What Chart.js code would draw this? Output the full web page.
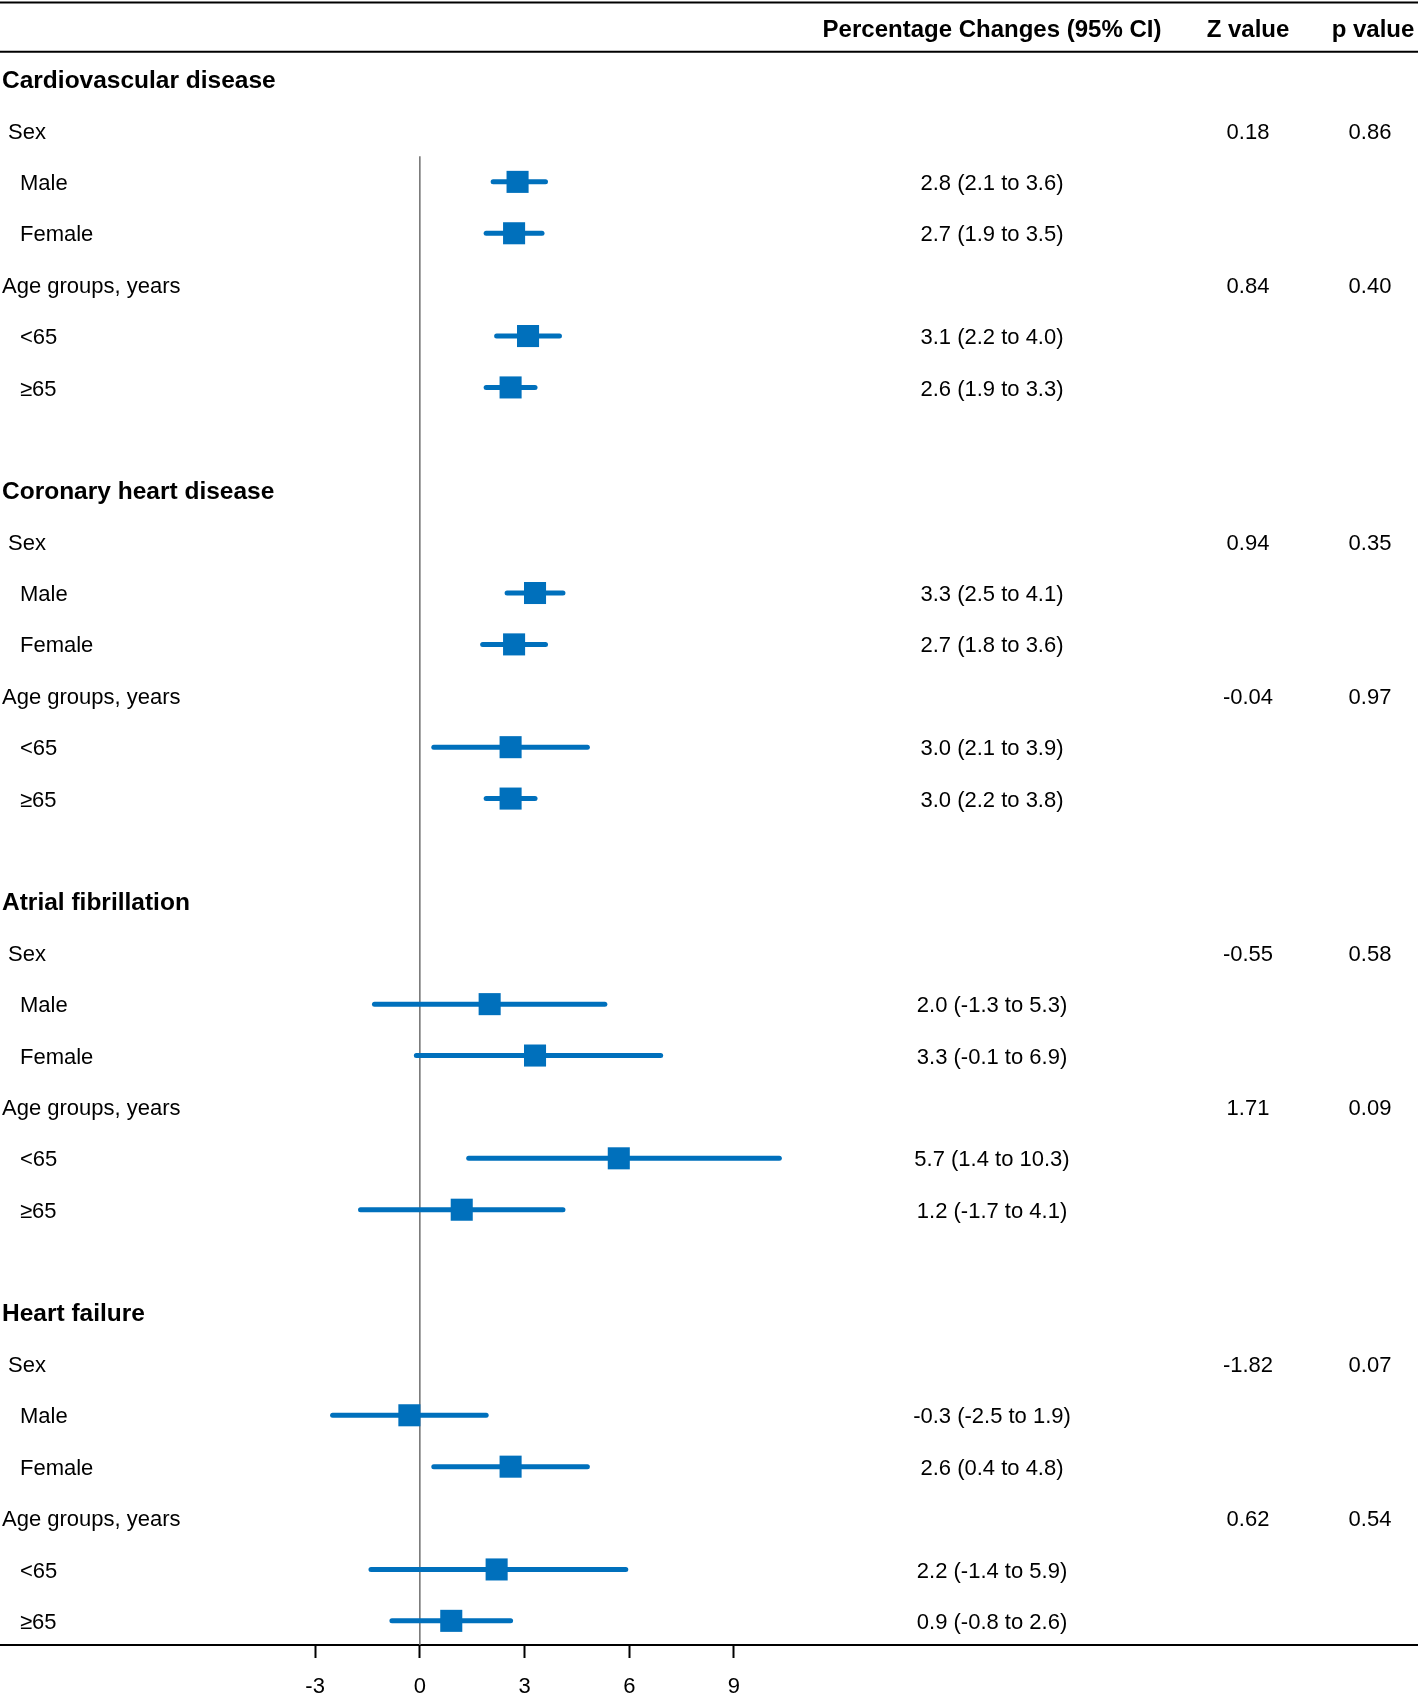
<!DOCTYPE html>
<html>
<head>
<meta charset="utf-8">
<script src="https://cdn.jsdelivr.net/npm/chart.js@4.4.1/dist/chart.umd.min.js"></script>
<style>
  html, body { margin: 0; padding: 0; background: #fff; }
  #wrap { width: 1418px; height: 1696px; }
</style>
</head>
<body>
<div id="wrap"><canvas id="forest" width="1418" height="1696"></canvas></div>
<script>
const outcomes = ["Cardiovascular disease", "Coronary heart disease", "Atrial fibrillation", "Heart failure"];
const subgroups = ["Male", "Female", "<65", "≥65"];

// marks as drawn in the plot, 4 per outcome (Male, Female, <65, ≥65)
const estimate = [2.8, 2.7, 3.1, 2.6,   3.3, 2.7, 2.6, 2.6,   2.0, 3.3, 5.7, 1.2,   -0.3, 2.6, 2.2, 0.9];
const lower    = [2.1, 1.9, 2.2, 1.9,   2.5, 1.8, 0.4, 1.9,   -1.3, -0.1, 1.4, -1.7, -2.5, 0.4, -1.4, -0.8];
const upper    = [3.6, 3.5, 4.0, 3.3,   4.1, 3.6, 4.8, 3.3,   5.3, 6.9, 10.3, 4.1,   1.9, 4.8, 5.9, 2.6];

// text column, as printed
const ciText = [
  "2.8 (2.1 to 3.6)", "2.7 (1.9 to 3.5)", "3.1 (2.2 to 4.0)", "2.6 (1.9 to 3.3)",
  "3.3 (2.5 to 4.1)", "2.7 (1.8 to 3.6)", "3.0 (2.1 to 3.9)", "3.0 (2.2 to 3.8)",
  "2.0 (-1.3 to 5.3)", "3.3 (-0.1 to 6.9)", "5.7 (1.4 to 10.3)", "1.2 (-1.7 to 4.1)",
  "-0.3 (-2.5 to 1.9)", "2.6 (0.4 to 4.8)", "2.2 (-1.4 to 5.9)", "0.9 (-0.8 to 2.6)"
];
// Sex, Age groups for each outcome
const zValues = ["0.18", "0.84", "0.94", "-0.04", "-0.55", "1.71", "-1.82", "0.62"];
const pValues = ["0.86", "0.40", "0.35", "0.97", "0.58", "0.09", "0.07", "0.54"];
const xTicks = [-3, 0, 3, 6, 9];

const BLUE = "#0070bc";
const FONT = '"Liberation Sans", Arial, sans-serif';

// row index on the y scale
const subRowOffset = [2, 3, 5, 6];
const rowOf = i => 8 * Math.floor(i / 4) + subRowOffset[i % 4];
const Y_TOP = -1.5, Y_BOTTOM = 30.47;

const ciDatasets = estimate.map((e, i) => ({
  type: "line",
  data: [{ x: lower[i], y: rowOf(i) }, { x: upper[i], y: rowOf(i) }],
  borderColor: BLUE,
  borderWidth: 5,
  borderCapStyle: "round",
  pointRadius: 0,
  order: 1
}));

const tablePlugin = {
  id: "table",
  afterDraw(chart) {
    const ctx = chart.ctx;
    const ys = chart.scales.y;
    const W = chart.width;
    const rowY = r => ys.getPixelForValue(r);
    const textY = r => rowY(r) + 2;
    ctx.save();

    // rules
    ctx.strokeStyle = "#000";
    ctx.lineWidth = 2;
    [rowY(Y_TOP) + 0.5, rowY(-0.53)].forEach(yy => {
      ctx.beginPath();
      ctx.moveTo(0, yy);
      ctx.lineTo(W, yy);
      ctx.stroke();
    });

    ctx.fillStyle = "#000";
    ctx.textBaseline = "middle";

    // header
    ctx.font = "bold 24px " + FONT;
    ctx.textAlign = "center";
    const hy = textY(-1) + 1;
    ctx.fillText("Percentage Changes (95% CI)", 992, hy);
    ctx.fillText("Z value", 1248, hy);
    ctx.fillText("p value", 1373, hy);

    outcomes.forEach((name, g) => {
      const base = 8 * g;
      ctx.textAlign = "left";
      ctx.font = "bold 24.5px " + FONT;
      ctx.fillText(name, 2, textY(base));
      ctx.font = "22px " + FONT;
      ctx.fillText("Sex", 8, textY(base + 1));
      ctx.fillText("Age groups, years", 2, textY(base + 4));
      subgroups.forEach((s, k) => {
        ctx.textAlign = "left";
        ctx.fillText(s, 20, textY(base + subRowOffset[k]));
        ctx.textAlign = "center";
        ctx.fillText(ciText[4 * g + k], 992, textY(base + subRowOffset[k]));
      });
      ctx.textAlign = "center";
      ctx.fillText(zValues[2 * g], 1248, textY(base + 1));
      ctx.fillText(pValues[2 * g], 1370, textY(base + 1));
      ctx.fillText(zValues[2 * g + 1], 1248, textY(base + 4));
      ctx.fillText(pValues[2 * g + 1], 1370, textY(base + 4));
    });
    ctx.restore();
  }
};

new Chart(document.getElementById("forest"), {
  type: "scatter",
  data: {
    datasets: [
      {
        data: estimate.map((e, i) => ({ x: e, y: rowOf(i) })),
        pointStyle: "rect",
        pointRadius: 15.6,
        pointHoverRadius: 15.6,
        backgroundColor: BLUE,
        borderWidth: 0,
        order: 0
      },
      ...ciDatasets,
      {
        type: "line",
        data: [{ x: 0, y: 1.5 }, { x: 0, y: Y_BOTTOM }],
        borderColor: "#6f6f6f",
        borderWidth: 1.5,
        pointRadius: 0,
        order: 2
      }
    ]
  },
  options: {
    responsive: false,
    devicePixelRatio: 1,
    animation: false,
    layout: { autoPadding: false, padding: { top: 2, left: 0, right: 0, bottom: 0 } },
    plugins: { legend: { display: false }, tooltip: { enabled: false } },
    scales: {
      x: {
        type: "linear",
        min: -12.03,
        max: 28.6,
        afterBuildTicks: scale => { scale.ticks = xTicks.map(v => ({ value: v })); },
        afterFit: scale => { scale.height = 51; },
        grid: { drawOnChartArea: false, drawTicks: true, tickLength: 13, tickColor: "#000", tickWidth: 2 },
        border: { display: true, color: "#000", width: 2 },
        ticks: { color: "#000", font: { family: FONT, size: 22 }, padding: 16, maxRotation: 0 }
      },
      y: {
        type: "linear",
        display: false,
        reverse: true,
        min: Y_TOP,
        max: Y_BOTTOM
      }
    }
  },
  plugins: [tablePlugin]
});
</script>
</body>
</html>
